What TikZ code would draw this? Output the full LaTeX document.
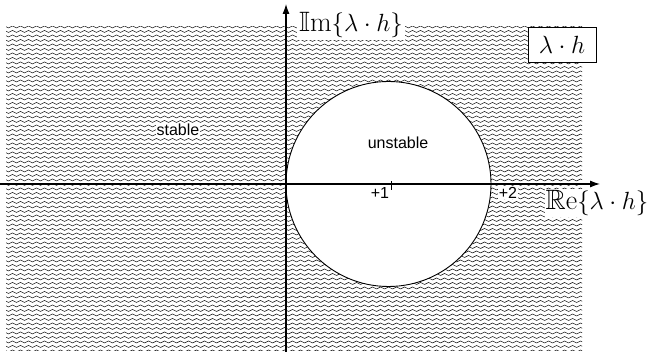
\documentclass[tikz,border=0pt]{standalone}
\usepackage{fontspec}
\usepackage{amsmath,amssymb}
\usetikzlibrary{arrows.meta, positioning, decorations.pathmorphing}
\newfontfamily\labfont{Liberation Sans}

\begin{document}
\begin{tikzpicture}[x=1pt, y=1pt,
    wave/.style={line width=0.45pt, decorate,
        decoration={snake, segment length=8pt, amplitude=1pt}},
    axis/.style={line width=1.1pt, -{Latex[length=10pt, width=7pt]}},
    mathlab/.style={fill=white, inner sep=2pt, font=\fontsize{28}{32}\selectfont},
    txtlab/.style={fill=white, inner sep=1pt, font=\labfont\fontsize{16}{19}\selectfont}]
    \useasboundingbox (0,0) rectangle (652,352);
    \def\xO{286} \def\yO{168} \def\u{102.5}
    % Hatched region
    \begin{scope}
        \clip (6,1) rectangle (582,325);
        \foreach \k in {0,...,72} {
            \draw[wave] (2,1+4.5*\k) -- (590,1+4.5*\k);
        }
    \end{scope}
    % Unstable disc
    \coordinate (C) at (\xO+\u,\yO);
    \draw[line width=0.9pt, fill=white] (C) circle (\u);
    % Axes
    \coordinate (xs) at (0,\yO);
    \coordinate (xe) at (600,\yO);
    \coordinate (ys) at (\xO,0);
    \coordinate (ye) at (\xO,348);
    \draw[axis] (xs) -- (xe);
    \draw[axis] (ys) -- (ye);
    % Tick at +1
    \coordinate (t1) at (\xO+\u+3,\yO+3);
    \coordinate (t2) at (\xO+\u+3,\yO-6);
    \draw[line width=0.5pt] (t1) -- (t2);
    % Labels
    \node[mathlab] (im) at (351,327) {$\mathbb{I}\mathrm{m}\{\lambda\cdot h\}$};
    \node[mathlab, inner sep=1pt] (re) at (597,149) {$\mathbb{R}\mathrm{e}\{\lambda\cdot h\}$};
    \node[draw, fill=white, line width=0.6pt, minimum width=68pt, minimum height=35pt,
        font=\fontsize{28}{32}\selectfont] (lh) at (562,307.5) {$\lambda\cdot h$};
    \node[txtlab] (st) at (178,222) {stable};
    \node[txtlab] (un) at (398,209) {unstable};
    \node[txtlab] (p1) at (380,159) {+1};
    \node[txtlab] (p2) at (508,159.5) {+2};
\end{tikzpicture}
\end{document}
